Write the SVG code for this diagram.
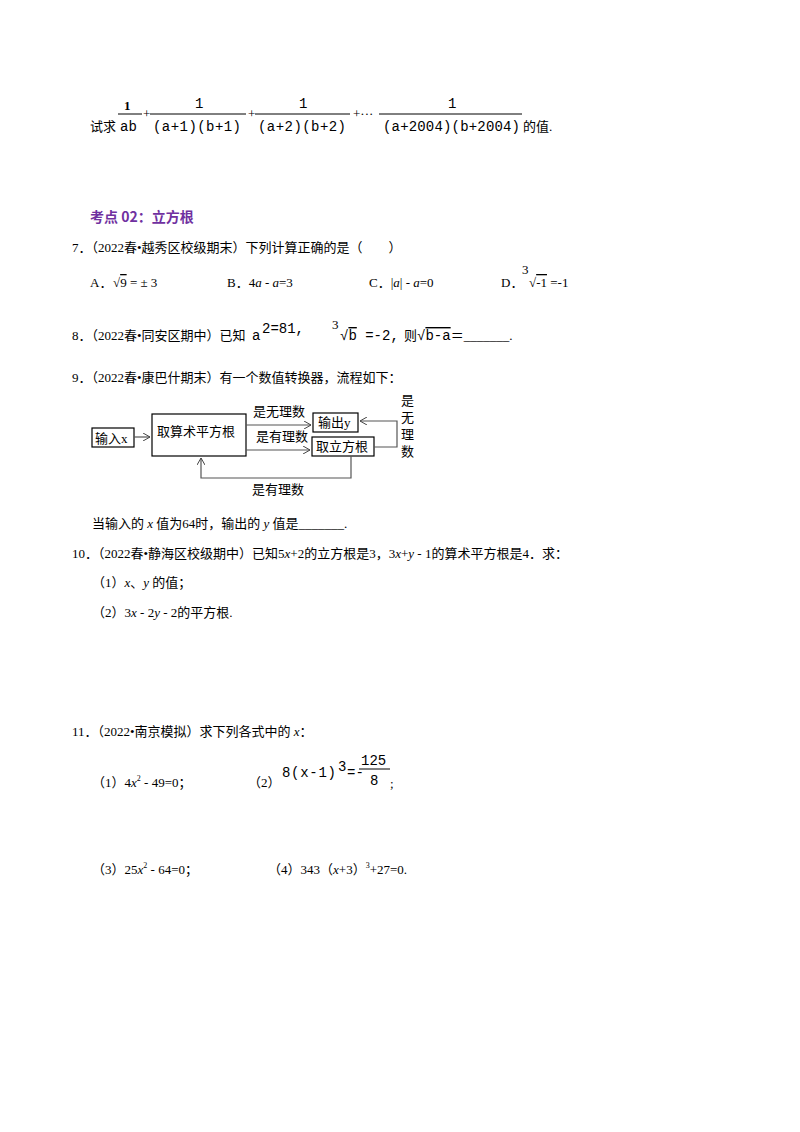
<svg xmlns="http://www.w3.org/2000/svg" width="800" height="1132" viewBox="0 0 800 1132">
<style>
text{font-family:"Liberation Serif","Noto Sans CJK SC",serif;font-size:13px;fill:#000}
.s{font-family:"Noto Sans CJK SC",sans-serif}
.m{font-family:"Liberation Mono","Noto Sans CJK SC",monospace;font-size:14px}
.i{font-style:italic}
.h{fill:#7030a0;font-weight:bold;font-size:14px}
.fl{stroke:#000;stroke-width:1}
.b{fill:#fff;stroke:#000;stroke-width:1.2}
.c{fill:none;stroke:#555;stroke-width:1.2}
</style>
<defs><marker id="a" markerWidth="8" markerHeight="8" refX="7" refY="4" orient="auto" markerUnits="userSpaceOnUse"><path d="M0,0L7,4L0,8" fill="none" stroke="#444" stroke-width="1"/></marker></defs>
<rect width="800" height="1132" fill="#fff"/>
<g id="q6">
<text x="90" y="131">试求</text>
<text x="124" y="110" font-weight="bold" font-size="16">1</text>
<line class="fl" x1="118" y1="114" x2="142" y2="114"/>
<text x="120" y="131" class="m">ab</text>
<text x="143" y="118" font-size="10">+</text>
<text x="195" y="108" class="m">1</text>
<line class="fl" x1="150" y1="114" x2="246" y2="114"/>
<text x="153" y="131" class="m" textLength="88">(a+1)(b+1)</text>
<text x="248" y="118" font-size="10">+</text>
<text x="299" y="108" class="m">1</text>
<line class="fl" x1="255" y1="114" x2="350" y2="114"/>
<text x="258" y="131" class="m" textLength="88">(a+2)(b+2)</text>
<text x="353" y="118" font-size="10">+···</text>
<text x="448" y="108" class="m">1</text>
<line class="fl" x1="379" y1="114" x2="522" y2="114"/>
<text x="383" y="131" class="m" textLength="137">(a+2004)(b+2004)</text>
<text x="523" y="131">的值.</text>
</g>
<text x="90" y="222" class="h s">考点 02：立方根</text>
<g id="q7">
<text x="72" y="252">7．（2022春•越秀区校级期末）下列计算正确的是（　　）</text>
<text x="90" y="287">A．</text>
<text x="113" y="287" font-family="Liberation Sans" font-size="16">√<tspan text-decoration="overline">9</tspan> = ± 3</text>
<text x="227" y="287">B．4<tspan class="i">a</tspan> - <tspan class="i">a</tspan>=3</text>
<text x="369" y="287">C．|<tspan class="i">a</tspan>| - <tspan class="i">a</tspan>=0</text>
<text x="501" y="287">D．</text>
<text x="522" y="274" font-size="10">3</text>
<text x="529" y="287" font-family="Liberation Sans" font-size="16">√<tspan text-decoration="overline">-1</tspan> =-1</text>
</g>
<g id="q8">
<text x="72" y="340">8．（2022春•同安区期中）已知</text>
<text x="252" y="340" class="m">a</text>
<text x="262" y="333" class="m">2=81,</text>
<text x="332" y="329" font-size="10">3</text>
<text x="340" y="340" class="m">√<tspan text-decoration="overline">b</tspan> =-2,</text>
<text x="404" y="340">则<tspan class="m">√<tspan text-decoration="overline">b-a</tspan></tspan>＝_______.</text>
</g>
<text x="72" y="382">9．（2022春•康巴什期末）有一个数值转换器，流程如下：</text>
<g id="n1"><rect class="b" x="92" y="428" width="42" height="19"/><text x="95" y="443">输入x</text></g>
<g id="n2"><rect class="b" x="152" y="414" width="94" height="42"/><text x="157" y="436">取算术平方根</text></g>
<g id="n3"><rect class="b" x="313" y="413" width="45" height="19"/><text x="318" y="427">输出y</text></g>
<g id="n4"><rect class="b" x="312" y="437" width="62" height="19"/><text x="316" y="451">取立方根</text></g>
<g id="edges">
<line class="c" x1="134" y1="437" x2="150" y2="437" marker-end="url(#a)"/>
<line class="c" x1="246" y1="425" x2="311" y2="425" marker-end="url(#a)"/>
<line class="c" x1="246" y1="450" x2="310" y2="450" marker-end="url(#a)"/>
<polyline class="c" points="374,447 397,447 397,421 360,421" marker-end="url(#a)"/>
<polyline class="c" points="351,456 351,478 201,478 201,458" marker-end="url(#a)"/>
<text x="253" y="416">是无理数</text>
<text x="256" y="441">是有理数</text>
<text x="252" y="494">是有理数</text>
<text x="401" y="405">是</text><text x="401" y="422">无</text><text x="401" y="439">理</text><text x="401" y="456">数</text>
</g>
<text x="92" y="528">当输入的 <tspan class="i">x</tspan> 值为64时，输出的 <tspan class="i">y</tspan> 值是_______.</text>
<g id="q10">
<text x="72" y="558">10．（2022春•静海区校级期中）已知5<tspan class="i">x</tspan>+2的立方根是3，3<tspan class="i">x</tspan>+<tspan class="i">y</tspan> - 1的算术平方根是4．求：</text>
<text x="92" y="587">（1）<tspan class="i">x</tspan>、<tspan class="i">y</tspan> 的值；</text>
<text x="92" y="617">（2）3<tspan class="i">x</tspan> - 2<tspan class="i">y</tspan> - 2的平方根.</text>
</g>
<g id="q11">
<text x="72" y="736">11．（2022•南京模拟）求下列各式中的 <tspan class="i">x</tspan>：</text>
<text x="92" y="787">（1）4<tspan class="i">x</tspan><tspan font-size="8" dy="-6">2</tspan><tspan dy="6"> - 49=0；</tspan></text>
<text x="248" y="787">（2）</text>
<text x="282" y="777" class="m" textLength="54">8(x-1)</text>
<text x="338" y="771" class="m">3</text>
<text x="347" y="777" class="m">=-</text>
<text x="361" y="765" class="m">125</text>
<line class="fl" x1="359" y1="769" x2="390" y2="769"/>
<text x="370" y="785" class="m">8</text>
<text x="390" y="788">;</text>
<text x="92" y="874">（3）25<tspan class="i">x</tspan><tspan font-size="8" dy="-6">2</tspan><tspan dy="6"> - 64=0；</tspan></text>
<text x="268" y="874">（4）343（<tspan class="i">x</tspan>+3）<tspan font-size="8" dy="-6">3</tspan><tspan dy="6">+27=0.</tspan></text>
</g>
</svg>
